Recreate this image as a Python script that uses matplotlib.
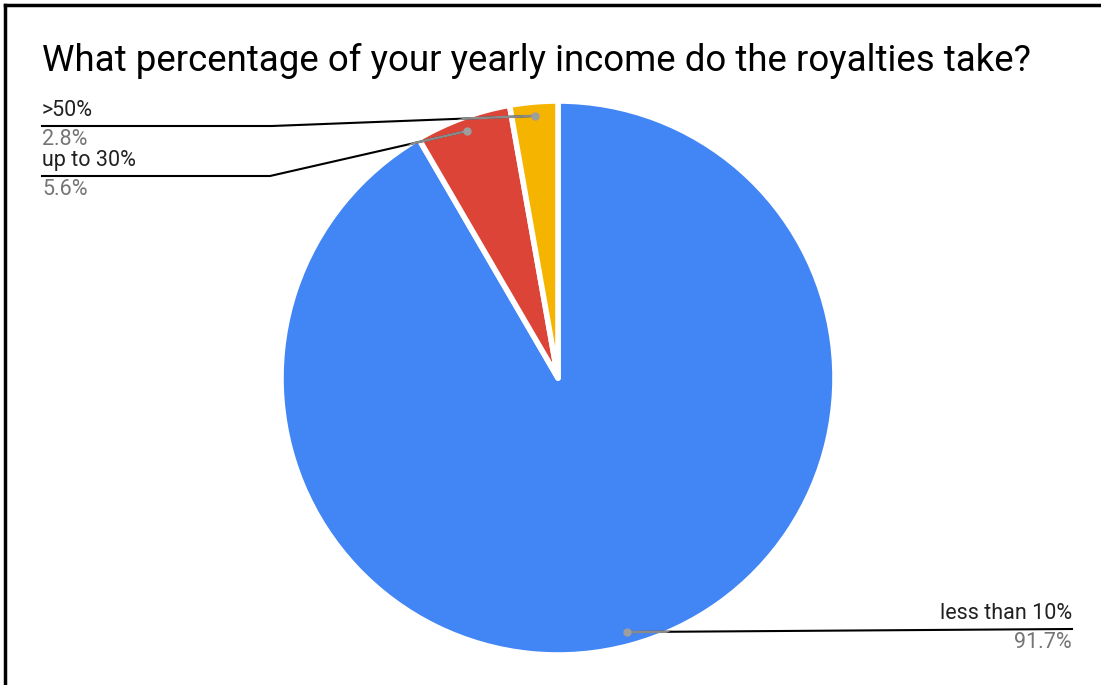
import numpy as np
import matplotlib.pyplot as plt
from matplotlib.patches import Circle

plt.rcParams['font.family'] = ['Roboto', 'DejaVu Sans']

labels = ['less than 10%', 'up to 30%', '>50%']
values = [91.7, 5.6, 2.8]
pct_text = ['91.7%', '5.6%', '2.8%']
colors = ['#4285F4', '#DB4437', '#F4B400']

W, H = 1101, 685
fig = plt.figure(figsize=(W / 100, H / 100), dpi=100)
ax = fig.add_axes([0, 0, 1, 1])

cx, cy, R = 558, H - 378, 277
wedges, _ = ax.pie(values, colors=colors, startangle=90, counterclock=False,
                   center=(cx, cy), radius=R, frame=True,
                   wedgeprops=dict(edgecolor='white', linewidth=4, joinstyle='round'))
ax.set_xlim(0, W)
ax.set_ylim(0, H)
ax.set_aspect('auto')
ax.axis('off')

clip = Circle((cx, cy), R, transform=ax.transData)

# label placement: (text x, underline y in px from top, elbow x, align)
layout = {
    'less than 10%': (1072, 629, None, 'right'),
    'up to 30%': (42, 176, 270, 'left'),
    '>50%': (42, 126, 272, 'left'),
}

for w, lab, pt in zip(wedges, labels, pct_text):
    mid = np.deg2rad((w.theta1 + w.theta2) / 2)
    dot = (cx + 0.95 * R * np.cos(mid), cy + 0.95 * R * np.sin(mid))
    tx, ly, ex, ha = layout[lab]
    ly = H - ly
    if ex is None:
        xs, ys = [dot[0], tx], [dot[1], ly]
    else:
        xs, ys = [dot[0], ex, tx], [dot[1], ly, ly]
    ax.plot(xs, ys, color='black', lw=1.5, zorder=4)
    g, = ax.plot(xs, ys, color='#8a8a8a', lw=1.8, zorder=4.5)
    g.set_clip_path(clip)
    ax.plot(*dot, 'o', color='#9e9e9e', ms=5, zorder=5)
    ax.text(tx, ly + 5, lab, ha=ha, va='bottom', fontsize=15.5, color='#212121')
    ax.text(tx, ly - 3, pt, ha=ha, va='top', fontsize=15.5, color='#757575')

fig.text(42 / W, 1 - 61 / H, 'What percentage of your yearly income do the royalties take?',
         ha='left', va='center', fontsize=26.4, color='black')

# frame on left and top (cropped screenshot)
fig.add_artist(plt.Line2D([5 / W, 5 / W], [0, 1 - 5 / H], color='black', lw=2.5,
                          transform=fig.transFigure))
fig.add_artist(plt.Line2D([5 / W, 1], [1 - 5 / H, 1 - 5 / H], color='black', lw=2.5,
                          transform=fig.transFigure))

fig.savefig('out.png', dpi=100, facecolor='white')
